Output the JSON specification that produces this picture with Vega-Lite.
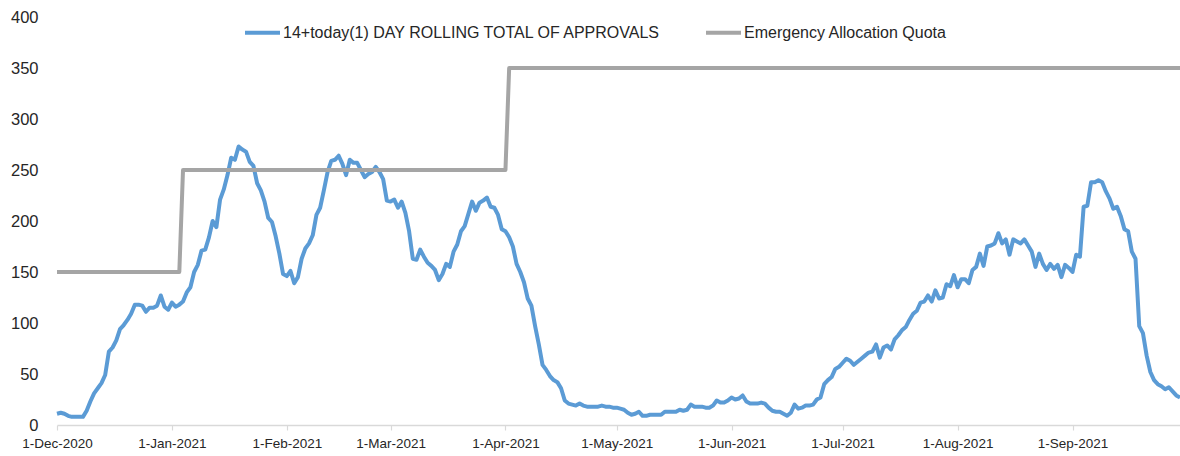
{
  "$schema": "https://vega.github.io/schema/vega-lite/v6.json",
  "width": 1123,
  "height": 408,
  "autosize": {"type": "none"},
  "padding": {"left": 57, "top": 17, "right": 0, "bottom": 31},
  "background": "white",
  "config": {"view": {"stroke": null}, "font": "Liberation Sans"},
  "data": {"values": [
{"date":"2020-12-01","value":11,"series":"14+today(1) DAY ROLLING TOTAL OF APPROVALS"},
{"date":"2020-12-02","value":12,"series":"14+today(1) DAY ROLLING TOTAL OF APPROVALS"},
{"date":"2020-12-03","value":11,"series":"14+today(1) DAY ROLLING TOTAL OF APPROVALS"},
{"date":"2020-12-04","value":9,"series":"14+today(1) DAY ROLLING TOTAL OF APPROVALS"},
{"date":"2020-12-05","value":8,"series":"14+today(1) DAY ROLLING TOTAL OF APPROVALS"},
{"date":"2020-12-06","value":8,"series":"14+today(1) DAY ROLLING TOTAL OF APPROVALS"},
{"date":"2020-12-07","value":8,"series":"14+today(1) DAY ROLLING TOTAL OF APPROVALS"},
{"date":"2020-12-08","value":8,"series":"14+today(1) DAY ROLLING TOTAL OF APPROVALS"},
{"date":"2020-12-09","value":14,"series":"14+today(1) DAY ROLLING TOTAL OF APPROVALS"},
{"date":"2020-12-10","value":23,"series":"14+today(1) DAY ROLLING TOTAL OF APPROVALS"},
{"date":"2020-12-11","value":31,"series":"14+today(1) DAY ROLLING TOTAL OF APPROVALS"},
{"date":"2020-12-12","value":36,"series":"14+today(1) DAY ROLLING TOTAL OF APPROVALS"},
{"date":"2020-12-13","value":41,"series":"14+today(1) DAY ROLLING TOTAL OF APPROVALS"},
{"date":"2020-12-14","value":49,"series":"14+today(1) DAY ROLLING TOTAL OF APPROVALS"},
{"date":"2020-12-15","value":72,"series":"14+today(1) DAY ROLLING TOTAL OF APPROVALS"},
{"date":"2020-12-16","value":76,"series":"14+today(1) DAY ROLLING TOTAL OF APPROVALS"},
{"date":"2020-12-17","value":83,"series":"14+today(1) DAY ROLLING TOTAL OF APPROVALS"},
{"date":"2020-12-18","value":94,"series":"14+today(1) DAY ROLLING TOTAL OF APPROVALS"},
{"date":"2020-12-19","value":98,"series":"14+today(1) DAY ROLLING TOTAL OF APPROVALS"},
{"date":"2020-12-20","value":103,"series":"14+today(1) DAY ROLLING TOTAL OF APPROVALS"},
{"date":"2020-12-21","value":109,"series":"14+today(1) DAY ROLLING TOTAL OF APPROVALS"},
{"date":"2020-12-22","value":118,"series":"14+today(1) DAY ROLLING TOTAL OF APPROVALS"},
{"date":"2020-12-23","value":118,"series":"14+today(1) DAY ROLLING TOTAL OF APPROVALS"},
{"date":"2020-12-24","value":117,"series":"14+today(1) DAY ROLLING TOTAL OF APPROVALS"},
{"date":"2020-12-25","value":111,"series":"14+today(1) DAY ROLLING TOTAL OF APPROVALS"},
{"date":"2020-12-26","value":115,"series":"14+today(1) DAY ROLLING TOTAL OF APPROVALS"},
{"date":"2020-12-27","value":115,"series":"14+today(1) DAY ROLLING TOTAL OF APPROVALS"},
{"date":"2020-12-28","value":117,"series":"14+today(1) DAY ROLLING TOTAL OF APPROVALS"},
{"date":"2020-12-29","value":127,"series":"14+today(1) DAY ROLLING TOTAL OF APPROVALS"},
{"date":"2020-12-30","value":116,"series":"14+today(1) DAY ROLLING TOTAL OF APPROVALS"},
{"date":"2020-12-31","value":113,"series":"14+today(1) DAY ROLLING TOTAL OF APPROVALS"},
{"date":"2021-01-01","value":120,"series":"14+today(1) DAY ROLLING TOTAL OF APPROVALS"},
{"date":"2021-01-02","value":116,"series":"14+today(1) DAY ROLLING TOTAL OF APPROVALS"},
{"date":"2021-01-03","value":118,"series":"14+today(1) DAY ROLLING TOTAL OF APPROVALS"},
{"date":"2021-01-04","value":121,"series":"14+today(1) DAY ROLLING TOTAL OF APPROVALS"},
{"date":"2021-01-05","value":130,"series":"14+today(1) DAY ROLLING TOTAL OF APPROVALS"},
{"date":"2021-01-06","value":135,"series":"14+today(1) DAY ROLLING TOTAL OF APPROVALS"},
{"date":"2021-01-07","value":150,"series":"14+today(1) DAY ROLLING TOTAL OF APPROVALS"},
{"date":"2021-01-08","value":157,"series":"14+today(1) DAY ROLLING TOTAL OF APPROVALS"},
{"date":"2021-01-09","value":171,"series":"14+today(1) DAY ROLLING TOTAL OF APPROVALS"},
{"date":"2021-01-10","value":172,"series":"14+today(1) DAY ROLLING TOTAL OF APPROVALS"},
{"date":"2021-01-11","value":184,"series":"14+today(1) DAY ROLLING TOTAL OF APPROVALS"},
{"date":"2021-01-12","value":200,"series":"14+today(1) DAY ROLLING TOTAL OF APPROVALS"},
{"date":"2021-01-13","value":194,"series":"14+today(1) DAY ROLLING TOTAL OF APPROVALS"},
{"date":"2021-01-14","value":221,"series":"14+today(1) DAY ROLLING TOTAL OF APPROVALS"},
{"date":"2021-01-15","value":231,"series":"14+today(1) DAY ROLLING TOTAL OF APPROVALS"},
{"date":"2021-01-16","value":245,"series":"14+today(1) DAY ROLLING TOTAL OF APPROVALS"},
{"date":"2021-01-17","value":262,"series":"14+today(1) DAY ROLLING TOTAL OF APPROVALS"},
{"date":"2021-01-18","value":260,"series":"14+today(1) DAY ROLLING TOTAL OF APPROVALS"},
{"date":"2021-01-19","value":273,"series":"14+today(1) DAY ROLLING TOTAL OF APPROVALS"},
{"date":"2021-01-20","value":270,"series":"14+today(1) DAY ROLLING TOTAL OF APPROVALS"},
{"date":"2021-01-21","value":268,"series":"14+today(1) DAY ROLLING TOTAL OF APPROVALS"},
{"date":"2021-01-22","value":258,"series":"14+today(1) DAY ROLLING TOTAL OF APPROVALS"},
{"date":"2021-01-23","value":254,"series":"14+today(1) DAY ROLLING TOTAL OF APPROVALS"},
{"date":"2021-01-24","value":237,"series":"14+today(1) DAY ROLLING TOTAL OF APPROVALS"},
{"date":"2021-01-25","value":230,"series":"14+today(1) DAY ROLLING TOTAL OF APPROVALS"},
{"date":"2021-01-26","value":219,"series":"14+today(1) DAY ROLLING TOTAL OF APPROVALS"},
{"date":"2021-01-27","value":203,"series":"14+today(1) DAY ROLLING TOTAL OF APPROVALS"},
{"date":"2021-01-28","value":199,"series":"14+today(1) DAY ROLLING TOTAL OF APPROVALS"},
{"date":"2021-01-29","value":185,"series":"14+today(1) DAY ROLLING TOTAL OF APPROVALS"},
{"date":"2021-01-30","value":168,"series":"14+today(1) DAY ROLLING TOTAL OF APPROVALS"},
{"date":"2021-01-31","value":148,"series":"14+today(1) DAY ROLLING TOTAL OF APPROVALS"},
{"date":"2021-02-01","value":146,"series":"14+today(1) DAY ROLLING TOTAL OF APPROVALS"},
{"date":"2021-02-02","value":151,"series":"14+today(1) DAY ROLLING TOTAL OF APPROVALS"},
{"date":"2021-02-03","value":139,"series":"14+today(1) DAY ROLLING TOTAL OF APPROVALS"},
{"date":"2021-02-04","value":145,"series":"14+today(1) DAY ROLLING TOTAL OF APPROVALS"},
{"date":"2021-02-05","value":163,"series":"14+today(1) DAY ROLLING TOTAL OF APPROVALS"},
{"date":"2021-02-06","value":173,"series":"14+today(1) DAY ROLLING TOTAL OF APPROVALS"},
{"date":"2021-02-07","value":178,"series":"14+today(1) DAY ROLLING TOTAL OF APPROVALS"},
{"date":"2021-02-08","value":186,"series":"14+today(1) DAY ROLLING TOTAL OF APPROVALS"},
{"date":"2021-02-09","value":206,"series":"14+today(1) DAY ROLLING TOTAL OF APPROVALS"},
{"date":"2021-02-10","value":213,"series":"14+today(1) DAY ROLLING TOTAL OF APPROVALS"},
{"date":"2021-02-11","value":230,"series":"14+today(1) DAY ROLLING TOTAL OF APPROVALS"},
{"date":"2021-02-12","value":248,"series":"14+today(1) DAY ROLLING TOTAL OF APPROVALS"},
{"date":"2021-02-13","value":259,"series":"14+today(1) DAY ROLLING TOTAL OF APPROVALS"},
{"date":"2021-02-14","value":260,"series":"14+today(1) DAY ROLLING TOTAL OF APPROVALS"},
{"date":"2021-02-15","value":264,"series":"14+today(1) DAY ROLLING TOTAL OF APPROVALS"},
{"date":"2021-02-16","value":256,"series":"14+today(1) DAY ROLLING TOTAL OF APPROVALS"},
{"date":"2021-02-17","value":245,"series":"14+today(1) DAY ROLLING TOTAL OF APPROVALS"},
{"date":"2021-02-18","value":260,"series":"14+today(1) DAY ROLLING TOTAL OF APPROVALS"},
{"date":"2021-02-19","value":257,"series":"14+today(1) DAY ROLLING TOTAL OF APPROVALS"},
{"date":"2021-02-20","value":257,"series":"14+today(1) DAY ROLLING TOTAL OF APPROVALS"},
{"date":"2021-02-21","value":250,"series":"14+today(1) DAY ROLLING TOTAL OF APPROVALS"},
{"date":"2021-02-22","value":243,"series":"14+today(1) DAY ROLLING TOTAL OF APPROVALS"},
{"date":"2021-02-23","value":246,"series":"14+today(1) DAY ROLLING TOTAL OF APPROVALS"},
{"date":"2021-02-24","value":248,"series":"14+today(1) DAY ROLLING TOTAL OF APPROVALS"},
{"date":"2021-02-25","value":253,"series":"14+today(1) DAY ROLLING TOTAL OF APPROVALS"},
{"date":"2021-02-26","value":248,"series":"14+today(1) DAY ROLLING TOTAL OF APPROVALS"},
{"date":"2021-02-27","value":241,"series":"14+today(1) DAY ROLLING TOTAL OF APPROVALS"},
{"date":"2021-02-28","value":220,"series":"14+today(1) DAY ROLLING TOTAL OF APPROVALS"},
{"date":"2021-03-01","value":219,"series":"14+today(1) DAY ROLLING TOTAL OF APPROVALS"},
{"date":"2021-03-02","value":221,"series":"14+today(1) DAY ROLLING TOTAL OF APPROVALS"},
{"date":"2021-03-03","value":213,"series":"14+today(1) DAY ROLLING TOTAL OF APPROVALS"},
{"date":"2021-03-04","value":219,"series":"14+today(1) DAY ROLLING TOTAL OF APPROVALS"},
{"date":"2021-03-05","value":208,"series":"14+today(1) DAY ROLLING TOTAL OF APPROVALS"},
{"date":"2021-03-06","value":190,"series":"14+today(1) DAY ROLLING TOTAL OF APPROVALS"},
{"date":"2021-03-07","value":163,"series":"14+today(1) DAY ROLLING TOTAL OF APPROVALS"},
{"date":"2021-03-08","value":162,"series":"14+today(1) DAY ROLLING TOTAL OF APPROVALS"},
{"date":"2021-03-09","value":172,"series":"14+today(1) DAY ROLLING TOTAL OF APPROVALS"},
{"date":"2021-03-10","value":165,"series":"14+today(1) DAY ROLLING TOTAL OF APPROVALS"},
{"date":"2021-03-11","value":159,"series":"14+today(1) DAY ROLLING TOTAL OF APPROVALS"},
{"date":"2021-03-12","value":156,"series":"14+today(1) DAY ROLLING TOTAL OF APPROVALS"},
{"date":"2021-03-13","value":152,"series":"14+today(1) DAY ROLLING TOTAL OF APPROVALS"},
{"date":"2021-03-14","value":142,"series":"14+today(1) DAY ROLLING TOTAL OF APPROVALS"},
{"date":"2021-03-15","value":148,"series":"14+today(1) DAY ROLLING TOTAL OF APPROVALS"},
{"date":"2021-03-16","value":158,"series":"14+today(1) DAY ROLLING TOTAL OF APPROVALS"},
{"date":"2021-03-17","value":155,"series":"14+today(1) DAY ROLLING TOTAL OF APPROVALS"},
{"date":"2021-03-18","value":170,"series":"14+today(1) DAY ROLLING TOTAL OF APPROVALS"},
{"date":"2021-03-19","value":177,"series":"14+today(1) DAY ROLLING TOTAL OF APPROVALS"},
{"date":"2021-03-20","value":190,"series":"14+today(1) DAY ROLLING TOTAL OF APPROVALS"},
{"date":"2021-03-21","value":195,"series":"14+today(1) DAY ROLLING TOTAL OF APPROVALS"},
{"date":"2021-03-22","value":207,"series":"14+today(1) DAY ROLLING TOTAL OF APPROVALS"},
{"date":"2021-03-23","value":219,"series":"14+today(1) DAY ROLLING TOTAL OF APPROVALS"},
{"date":"2021-03-24","value":210,"series":"14+today(1) DAY ROLLING TOTAL OF APPROVALS"},
{"date":"2021-03-25","value":218,"series":"14+today(1) DAY ROLLING TOTAL OF APPROVALS"},
{"date":"2021-03-26","value":220,"series":"14+today(1) DAY ROLLING TOTAL OF APPROVALS"},
{"date":"2021-03-27","value":223,"series":"14+today(1) DAY ROLLING TOTAL OF APPROVALS"},
{"date":"2021-03-28","value":214,"series":"14+today(1) DAY ROLLING TOTAL OF APPROVALS"},
{"date":"2021-03-29","value":213,"series":"14+today(1) DAY ROLLING TOTAL OF APPROVALS"},
{"date":"2021-03-30","value":206,"series":"14+today(1) DAY ROLLING TOTAL OF APPROVALS"},
{"date":"2021-03-31","value":192,"series":"14+today(1) DAY ROLLING TOTAL OF APPROVALS"},
{"date":"2021-04-01","value":190,"series":"14+today(1) DAY ROLLING TOTAL OF APPROVALS"},
{"date":"2021-04-02","value":184,"series":"14+today(1) DAY ROLLING TOTAL OF APPROVALS"},
{"date":"2021-04-03","value":175,"series":"14+today(1) DAY ROLLING TOTAL OF APPROVALS"},
{"date":"2021-04-04","value":158,"series":"14+today(1) DAY ROLLING TOTAL OF APPROVALS"},
{"date":"2021-04-05","value":150,"series":"14+today(1) DAY ROLLING TOTAL OF APPROVALS"},
{"date":"2021-04-06","value":140,"series":"14+today(1) DAY ROLLING TOTAL OF APPROVALS"},
{"date":"2021-04-07","value":124,"series":"14+today(1) DAY ROLLING TOTAL OF APPROVALS"},
{"date":"2021-04-08","value":117,"series":"14+today(1) DAY ROLLING TOTAL OF APPROVALS"},
{"date":"2021-04-09","value":97,"series":"14+today(1) DAY ROLLING TOTAL OF APPROVALS"},
{"date":"2021-04-10","value":79,"series":"14+today(1) DAY ROLLING TOTAL OF APPROVALS"},
{"date":"2021-04-11","value":59,"series":"14+today(1) DAY ROLLING TOTAL OF APPROVALS"},
{"date":"2021-04-12","value":54,"series":"14+today(1) DAY ROLLING TOTAL OF APPROVALS"},
{"date":"2021-04-13","value":48,"series":"14+today(1) DAY ROLLING TOTAL OF APPROVALS"},
{"date":"2021-04-14","value":44,"series":"14+today(1) DAY ROLLING TOTAL OF APPROVALS"},
{"date":"2021-04-15","value":42,"series":"14+today(1) DAY ROLLING TOTAL OF APPROVALS"},
{"date":"2021-04-16","value":36,"series":"14+today(1) DAY ROLLING TOTAL OF APPROVALS"},
{"date":"2021-04-17","value":24,"series":"14+today(1) DAY ROLLING TOTAL OF APPROVALS"},
{"date":"2021-04-18","value":21,"series":"14+today(1) DAY ROLLING TOTAL OF APPROVALS"},
{"date":"2021-04-19","value":20,"series":"14+today(1) DAY ROLLING TOTAL OF APPROVALS"},
{"date":"2021-04-20","value":19,"series":"14+today(1) DAY ROLLING TOTAL OF APPROVALS"},
{"date":"2021-04-21","value":21,"series":"14+today(1) DAY ROLLING TOTAL OF APPROVALS"},
{"date":"2021-04-22","value":19,"series":"14+today(1) DAY ROLLING TOTAL OF APPROVALS"},
{"date":"2021-04-23","value":18,"series":"14+today(1) DAY ROLLING TOTAL OF APPROVALS"},
{"date":"2021-04-24","value":18,"series":"14+today(1) DAY ROLLING TOTAL OF APPROVALS"},
{"date":"2021-04-25","value":18,"series":"14+today(1) DAY ROLLING TOTAL OF APPROVALS"},
{"date":"2021-04-26","value":18,"series":"14+today(1) DAY ROLLING TOTAL OF APPROVALS"},
{"date":"2021-04-27","value":19,"series":"14+today(1) DAY ROLLING TOTAL OF APPROVALS"},
{"date":"2021-04-28","value":18,"series":"14+today(1) DAY ROLLING TOTAL OF APPROVALS"},
{"date":"2021-04-29","value":18,"series":"14+today(1) DAY ROLLING TOTAL OF APPROVALS"},
{"date":"2021-04-30","value":17,"series":"14+today(1) DAY ROLLING TOTAL OF APPROVALS"},
{"date":"2021-05-01","value":17,"series":"14+today(1) DAY ROLLING TOTAL OF APPROVALS"},
{"date":"2021-05-02","value":16,"series":"14+today(1) DAY ROLLING TOTAL OF APPROVALS"},
{"date":"2021-05-03","value":15,"series":"14+today(1) DAY ROLLING TOTAL OF APPROVALS"},
{"date":"2021-05-04","value":12,"series":"14+today(1) DAY ROLLING TOTAL OF APPROVALS"},
{"date":"2021-05-05","value":10,"series":"14+today(1) DAY ROLLING TOTAL OF APPROVALS"},
{"date":"2021-05-06","value":11,"series":"14+today(1) DAY ROLLING TOTAL OF APPROVALS"},
{"date":"2021-05-07","value":13,"series":"14+today(1) DAY ROLLING TOTAL OF APPROVALS"},
{"date":"2021-05-08","value":9,"series":"14+today(1) DAY ROLLING TOTAL OF APPROVALS"},
{"date":"2021-05-09","value":9,"series":"14+today(1) DAY ROLLING TOTAL OF APPROVALS"},
{"date":"2021-05-10","value":10,"series":"14+today(1) DAY ROLLING TOTAL OF APPROVALS"},
{"date":"2021-05-11","value":10,"series":"14+today(1) DAY ROLLING TOTAL OF APPROVALS"},
{"date":"2021-05-12","value":10,"series":"14+today(1) DAY ROLLING TOTAL OF APPROVALS"},
{"date":"2021-05-13","value":10,"series":"14+today(1) DAY ROLLING TOTAL OF APPROVALS"},
{"date":"2021-05-14","value":13,"series":"14+today(1) DAY ROLLING TOTAL OF APPROVALS"},
{"date":"2021-05-15","value":13,"series":"14+today(1) DAY ROLLING TOTAL OF APPROVALS"},
{"date":"2021-05-16","value":13,"series":"14+today(1) DAY ROLLING TOTAL OF APPROVALS"},
{"date":"2021-05-17","value":13,"series":"14+today(1) DAY ROLLING TOTAL OF APPROVALS"},
{"date":"2021-05-18","value":15,"series":"14+today(1) DAY ROLLING TOTAL OF APPROVALS"},
{"date":"2021-05-19","value":14,"series":"14+today(1) DAY ROLLING TOTAL OF APPROVALS"},
{"date":"2021-05-20","value":15,"series":"14+today(1) DAY ROLLING TOTAL OF APPROVALS"},
{"date":"2021-05-21","value":20,"series":"14+today(1) DAY ROLLING TOTAL OF APPROVALS"},
{"date":"2021-05-22","value":18,"series":"14+today(1) DAY ROLLING TOTAL OF APPROVALS"},
{"date":"2021-05-23","value":18,"series":"14+today(1) DAY ROLLING TOTAL OF APPROVALS"},
{"date":"2021-05-24","value":18,"series":"14+today(1) DAY ROLLING TOTAL OF APPROVALS"},
{"date":"2021-05-25","value":17,"series":"14+today(1) DAY ROLLING TOTAL OF APPROVALS"},
{"date":"2021-05-26","value":17,"series":"14+today(1) DAY ROLLING TOTAL OF APPROVALS"},
{"date":"2021-05-27","value":19,"series":"14+today(1) DAY ROLLING TOTAL OF APPROVALS"},
{"date":"2021-05-28","value":24,"series":"14+today(1) DAY ROLLING TOTAL OF APPROVALS"},
{"date":"2021-05-29","value":22,"series":"14+today(1) DAY ROLLING TOTAL OF APPROVALS"},
{"date":"2021-05-30","value":22,"series":"14+today(1) DAY ROLLING TOTAL OF APPROVALS"},
{"date":"2021-05-31","value":24,"series":"14+today(1) DAY ROLLING TOTAL OF APPROVALS"},
{"date":"2021-06-01","value":27,"series":"14+today(1) DAY ROLLING TOTAL OF APPROVALS"},
{"date":"2021-06-02","value":25,"series":"14+today(1) DAY ROLLING TOTAL OF APPROVALS"},
{"date":"2021-06-03","value":26,"series":"14+today(1) DAY ROLLING TOTAL OF APPROVALS"},
{"date":"2021-06-04","value":29,"series":"14+today(1) DAY ROLLING TOTAL OF APPROVALS"},
{"date":"2021-06-05","value":23,"series":"14+today(1) DAY ROLLING TOTAL OF APPROVALS"},
{"date":"2021-06-06","value":21,"series":"14+today(1) DAY ROLLING TOTAL OF APPROVALS"},
{"date":"2021-06-07","value":21,"series":"14+today(1) DAY ROLLING TOTAL OF APPROVALS"},
{"date":"2021-06-08","value":21,"series":"14+today(1) DAY ROLLING TOTAL OF APPROVALS"},
{"date":"2021-06-09","value":22,"series":"14+today(1) DAY ROLLING TOTAL OF APPROVALS"},
{"date":"2021-06-10","value":21,"series":"14+today(1) DAY ROLLING TOTAL OF APPROVALS"},
{"date":"2021-06-11","value":17,"series":"14+today(1) DAY ROLLING TOTAL OF APPROVALS"},
{"date":"2021-06-12","value":14,"series":"14+today(1) DAY ROLLING TOTAL OF APPROVALS"},
{"date":"2021-06-13","value":13,"series":"14+today(1) DAY ROLLING TOTAL OF APPROVALS"},
{"date":"2021-06-14","value":13,"series":"14+today(1) DAY ROLLING TOTAL OF APPROVALS"},
{"date":"2021-06-15","value":11,"series":"14+today(1) DAY ROLLING TOTAL OF APPROVALS"},
{"date":"2021-06-16","value":9,"series":"14+today(1) DAY ROLLING TOTAL OF APPROVALS"},
{"date":"2021-06-17","value":12,"series":"14+today(1) DAY ROLLING TOTAL OF APPROVALS"},
{"date":"2021-06-18","value":20,"series":"14+today(1) DAY ROLLING TOTAL OF APPROVALS"},
{"date":"2021-06-19","value":16,"series":"14+today(1) DAY ROLLING TOTAL OF APPROVALS"},
{"date":"2021-06-20","value":17,"series":"14+today(1) DAY ROLLING TOTAL OF APPROVALS"},
{"date":"2021-06-21","value":19,"series":"14+today(1) DAY ROLLING TOTAL OF APPROVALS"},
{"date":"2021-06-22","value":19,"series":"14+today(1) DAY ROLLING TOTAL OF APPROVALS"},
{"date":"2021-06-23","value":20,"series":"14+today(1) DAY ROLLING TOTAL OF APPROVALS"},
{"date":"2021-06-24","value":25,"series":"14+today(1) DAY ROLLING TOTAL OF APPROVALS"},
{"date":"2021-06-25","value":27,"series":"14+today(1) DAY ROLLING TOTAL OF APPROVALS"},
{"date":"2021-06-26","value":40,"series":"14+today(1) DAY ROLLING TOTAL OF APPROVALS"},
{"date":"2021-06-27","value":44,"series":"14+today(1) DAY ROLLING TOTAL OF APPROVALS"},
{"date":"2021-06-28","value":47,"series":"14+today(1) DAY ROLLING TOTAL OF APPROVALS"},
{"date":"2021-06-29","value":55,"series":"14+today(1) DAY ROLLING TOTAL OF APPROVALS"},
{"date":"2021-06-30","value":57,"series":"14+today(1) DAY ROLLING TOTAL OF APPROVALS"},
{"date":"2021-07-01","value":61,"series":"14+today(1) DAY ROLLING TOTAL OF APPROVALS"},
{"date":"2021-07-02","value":65,"series":"14+today(1) DAY ROLLING TOTAL OF APPROVALS"},
{"date":"2021-07-03","value":63,"series":"14+today(1) DAY ROLLING TOTAL OF APPROVALS"},
{"date":"2021-07-04","value":59,"series":"14+today(1) DAY ROLLING TOTAL OF APPROVALS"},
{"date":"2021-07-05","value":62,"series":"14+today(1) DAY ROLLING TOTAL OF APPROVALS"},
{"date":"2021-07-06","value":65,"series":"14+today(1) DAY ROLLING TOTAL OF APPROVALS"},
{"date":"2021-07-07","value":68,"series":"14+today(1) DAY ROLLING TOTAL OF APPROVALS"},
{"date":"2021-07-08","value":71,"series":"14+today(1) DAY ROLLING TOTAL OF APPROVALS"},
{"date":"2021-07-09","value":72,"series":"14+today(1) DAY ROLLING TOTAL OF APPROVALS"},
{"date":"2021-07-10","value":79,"series":"14+today(1) DAY ROLLING TOTAL OF APPROVALS"},
{"date":"2021-07-11","value":66,"series":"14+today(1) DAY ROLLING TOTAL OF APPROVALS"},
{"date":"2021-07-12","value":76,"series":"14+today(1) DAY ROLLING TOTAL OF APPROVALS"},
{"date":"2021-07-13","value":78,"series":"14+today(1) DAY ROLLING TOTAL OF APPROVALS"},
{"date":"2021-07-14","value":74,"series":"14+today(1) DAY ROLLING TOTAL OF APPROVALS"},
{"date":"2021-07-15","value":84,"series":"14+today(1) DAY ROLLING TOTAL OF APPROVALS"},
{"date":"2021-07-16","value":88,"series":"14+today(1) DAY ROLLING TOTAL OF APPROVALS"},
{"date":"2021-07-17","value":93,"series":"14+today(1) DAY ROLLING TOTAL OF APPROVALS"},
{"date":"2021-07-18","value":96,"series":"14+today(1) DAY ROLLING TOTAL OF APPROVALS"},
{"date":"2021-07-19","value":103,"series":"14+today(1) DAY ROLLING TOTAL OF APPROVALS"},
{"date":"2021-07-20","value":109,"series":"14+today(1) DAY ROLLING TOTAL OF APPROVALS"},
{"date":"2021-07-21","value":112,"series":"14+today(1) DAY ROLLING TOTAL OF APPROVALS"},
{"date":"2021-07-22","value":120,"series":"14+today(1) DAY ROLLING TOTAL OF APPROVALS"},
{"date":"2021-07-23","value":121,"series":"14+today(1) DAY ROLLING TOTAL OF APPROVALS"},
{"date":"2021-07-24","value":127,"series":"14+today(1) DAY ROLLING TOTAL OF APPROVALS"},
{"date":"2021-07-25","value":121,"series":"14+today(1) DAY ROLLING TOTAL OF APPROVALS"},
{"date":"2021-07-26","value":132,"series":"14+today(1) DAY ROLLING TOTAL OF APPROVALS"},
{"date":"2021-07-27","value":124,"series":"14+today(1) DAY ROLLING TOTAL OF APPROVALS"},
{"date":"2021-07-28","value":125,"series":"14+today(1) DAY ROLLING TOTAL OF APPROVALS"},
{"date":"2021-07-29","value":138,"series":"14+today(1) DAY ROLLING TOTAL OF APPROVALS"},
{"date":"2021-07-30","value":136,"series":"14+today(1) DAY ROLLING TOTAL OF APPROVALS"},
{"date":"2021-07-31","value":147,"series":"14+today(1) DAY ROLLING TOTAL OF APPROVALS"},
{"date":"2021-08-01","value":135,"series":"14+today(1) DAY ROLLING TOTAL OF APPROVALS"},
{"date":"2021-08-02","value":143,"series":"14+today(1) DAY ROLLING TOTAL OF APPROVALS"},
{"date":"2021-08-03","value":143,"series":"14+today(1) DAY ROLLING TOTAL OF APPROVALS"},
{"date":"2021-08-04","value":139,"series":"14+today(1) DAY ROLLING TOTAL OF APPROVALS"},
{"date":"2021-08-05","value":152,"series":"14+today(1) DAY ROLLING TOTAL OF APPROVALS"},
{"date":"2021-08-06","value":155,"series":"14+today(1) DAY ROLLING TOTAL OF APPROVALS"},
{"date":"2021-08-07","value":168,"series":"14+today(1) DAY ROLLING TOTAL OF APPROVALS"},
{"date":"2021-08-08","value":156,"series":"14+today(1) DAY ROLLING TOTAL OF APPROVALS"},
{"date":"2021-08-09","value":175,"series":"14+today(1) DAY ROLLING TOTAL OF APPROVALS"},
{"date":"2021-08-10","value":176,"series":"14+today(1) DAY ROLLING TOTAL OF APPROVALS"},
{"date":"2021-08-11","value":178,"series":"14+today(1) DAY ROLLING TOTAL OF APPROVALS"},
{"date":"2021-08-12","value":188,"series":"14+today(1) DAY ROLLING TOTAL OF APPROVALS"},
{"date":"2021-08-13","value":178,"series":"14+today(1) DAY ROLLING TOTAL OF APPROVALS"},
{"date":"2021-08-14","value":182,"series":"14+today(1) DAY ROLLING TOTAL OF APPROVALS"},
{"date":"2021-08-15","value":167,"series":"14+today(1) DAY ROLLING TOTAL OF APPROVALS"},
{"date":"2021-08-16","value":182,"series":"14+today(1) DAY ROLLING TOTAL OF APPROVALS"},
{"date":"2021-08-17","value":180,"series":"14+today(1) DAY ROLLING TOTAL OF APPROVALS"},
{"date":"2021-08-18","value":178,"series":"14+today(1) DAY ROLLING TOTAL OF APPROVALS"},
{"date":"2021-08-19","value":182,"series":"14+today(1) DAY ROLLING TOTAL OF APPROVALS"},
{"date":"2021-08-20","value":176,"series":"14+today(1) DAY ROLLING TOTAL OF APPROVALS"},
{"date":"2021-08-21","value":170,"series":"14+today(1) DAY ROLLING TOTAL OF APPROVALS"},
{"date":"2021-08-22","value":155,"series":"14+today(1) DAY ROLLING TOTAL OF APPROVALS"},
{"date":"2021-08-23","value":168,"series":"14+today(1) DAY ROLLING TOTAL OF APPROVALS"},
{"date":"2021-08-24","value":158,"series":"14+today(1) DAY ROLLING TOTAL OF APPROVALS"},
{"date":"2021-08-25","value":152,"series":"14+today(1) DAY ROLLING TOTAL OF APPROVALS"},
{"date":"2021-08-26","value":158,"series":"14+today(1) DAY ROLLING TOTAL OF APPROVALS"},
{"date":"2021-08-27","value":153,"series":"14+today(1) DAY ROLLING TOTAL OF APPROVALS"},
{"date":"2021-08-28","value":157,"series":"14+today(1) DAY ROLLING TOTAL OF APPROVALS"},
{"date":"2021-08-29","value":145,"series":"14+today(1) DAY ROLLING TOTAL OF APPROVALS"},
{"date":"2021-08-30","value":157,"series":"14+today(1) DAY ROLLING TOTAL OF APPROVALS"},
{"date":"2021-08-31","value":154,"series":"14+today(1) DAY ROLLING TOTAL OF APPROVALS"},
{"date":"2021-09-01","value":150,"series":"14+today(1) DAY ROLLING TOTAL OF APPROVALS"},
{"date":"2021-09-02","value":167,"series":"14+today(1) DAY ROLLING TOTAL OF APPROVALS"},
{"date":"2021-09-03","value":165,"series":"14+today(1) DAY ROLLING TOTAL OF APPROVALS"},
{"date":"2021-09-04","value":214,"series":"14+today(1) DAY ROLLING TOTAL OF APPROVALS"},
{"date":"2021-09-05","value":215,"series":"14+today(1) DAY ROLLING TOTAL OF APPROVALS"},
{"date":"2021-09-06","value":238,"series":"14+today(1) DAY ROLLING TOTAL OF APPROVALS"},
{"date":"2021-09-07","value":238,"series":"14+today(1) DAY ROLLING TOTAL OF APPROVALS"},
{"date":"2021-09-08","value":240,"series":"14+today(1) DAY ROLLING TOTAL OF APPROVALS"},
{"date":"2021-09-09","value":238,"series":"14+today(1) DAY ROLLING TOTAL OF APPROVALS"},
{"date":"2021-09-10","value":229,"series":"14+today(1) DAY ROLLING TOTAL OF APPROVALS"},
{"date":"2021-09-11","value":222,"series":"14+today(1) DAY ROLLING TOTAL OF APPROVALS"},
{"date":"2021-09-12","value":212,"series":"14+today(1) DAY ROLLING TOTAL OF APPROVALS"},
{"date":"2021-09-13","value":214,"series":"14+today(1) DAY ROLLING TOTAL OF APPROVALS"},
{"date":"2021-09-14","value":205,"series":"14+today(1) DAY ROLLING TOTAL OF APPROVALS"},
{"date":"2021-09-15","value":192,"series":"14+today(1) DAY ROLLING TOTAL OF APPROVALS"},
{"date":"2021-09-16","value":190,"series":"14+today(1) DAY ROLLING TOTAL OF APPROVALS"},
{"date":"2021-09-17","value":170,"series":"14+today(1) DAY ROLLING TOTAL OF APPROVALS"},
{"date":"2021-09-18","value":163,"series":"14+today(1) DAY ROLLING TOTAL OF APPROVALS"},
{"date":"2021-09-19","value":97,"series":"14+today(1) DAY ROLLING TOTAL OF APPROVALS"},
{"date":"2021-09-20","value":90,"series":"14+today(1) DAY ROLLING TOTAL OF APPROVALS"},
{"date":"2021-09-21","value":68,"series":"14+today(1) DAY ROLLING TOTAL OF APPROVALS"},
{"date":"2021-09-22","value":52,"series":"14+today(1) DAY ROLLING TOTAL OF APPROVALS"},
{"date":"2021-09-23","value":44,"series":"14+today(1) DAY ROLLING TOTAL OF APPROVALS"},
{"date":"2021-09-24","value":40,"series":"14+today(1) DAY ROLLING TOTAL OF APPROVALS"},
{"date":"2021-09-25","value":38,"series":"14+today(1) DAY ROLLING TOTAL OF APPROVALS"},
{"date":"2021-09-26","value":35,"series":"14+today(1) DAY ROLLING TOTAL OF APPROVALS"},
{"date":"2021-09-27","value":37,"series":"14+today(1) DAY ROLLING TOTAL OF APPROVALS"},
{"date":"2021-09-28","value":33,"series":"14+today(1) DAY ROLLING TOTAL OF APPROVALS"},
{"date":"2021-09-29","value":29,"series":"14+today(1) DAY ROLLING TOTAL OF APPROVALS"},
{"date":"2021-09-30","value":27,"series":"14+today(1) DAY ROLLING TOTAL OF APPROVALS"},
{"date":"2020-12-01","value":150,"series":"Emergency Allocation Quota"},
{"date":"2021-01-03","value":150,"series":"Emergency Allocation Quota"},
{"date":"2021-01-04","value":250,"series":"Emergency Allocation Quota"},
{"date":"2021-04-01","value":250,"series":"Emergency Allocation Quota"},
{"date":"2021-04-02","value":350,"series":"Emergency Allocation Quota"},
{"date":"2021-09-30","value":350,"series":"Emergency Allocation Quota"}
  ]},
  "mark": {"type": "line", "strokeWidth": 4, "strokeJoin": "round", "clip": false},
  "encoding": {
    "x": {
      "field": "date", "type": "temporal",
      "scale": {"type": "utc", "domain": [{"year": 2020, "month": 12, "date": 1, "utc": true}, {"year": 2021, "month": 9, "date": 30, "utc": true}]},
      "axis": {
        "title": null, "labelExpr": "utcFormat(datum.value, '%-d-%b-%Y')",
        "tickCount": {"interval": "month", "step": 1},
        "grid": false, "domainColor": "#D9D9D9", "domainWidth": 1.5,
        "tickColor": "#D9D9D9", "tickSize": 5, "tickWidth": 1.2,
        "labelFont": "Liberation Sans", "labelFontSize": 13.5, "labelColor": "#262626",
        "labelPadding": 6, "labelFlush": false, "labelOverlap": false
      }
    },
    "y": {
      "field": "value", "type": "quantitative",
      "scale": {"domain": [0, 400], "nice": false, "zero": true},
      "axis": {
        "title": null, "values": [0, 50, 100, 150, 200, 250, 300, 350, 400],
        "grid": false, "domain": false, "ticks": false, "tickSize": 0,
        "labelFont": "Liberation Sans", "labelFontSize": 16.5, "labelColor": "#262626",
        "labelPadding": 19
      }
    },
    "color": {
      "field": "series", "type": "nominal",
      "scale": {"domain": ["14+today(1) DAY ROLLING TOTAL OF APPROVALS", "Emergency Allocation Quota"], "range": ["#5B9BD5", "#A5A5A5"]},
      "legend": {
        "title": null, "orient": "none", "legendX": 186, "legendY": -4,
        "direction": "horizontal", "symbolType": "stroke", "symbolSize": 1225,
        "symbolStrokeWidth": 4, "labelFont": "Liberation Sans", "labelFontSize": 16,
        "labelColor": "#262626", "labelLimit": 600, "labelOffset": 1, "columnPadding": 36
      }
    }
  }
}
